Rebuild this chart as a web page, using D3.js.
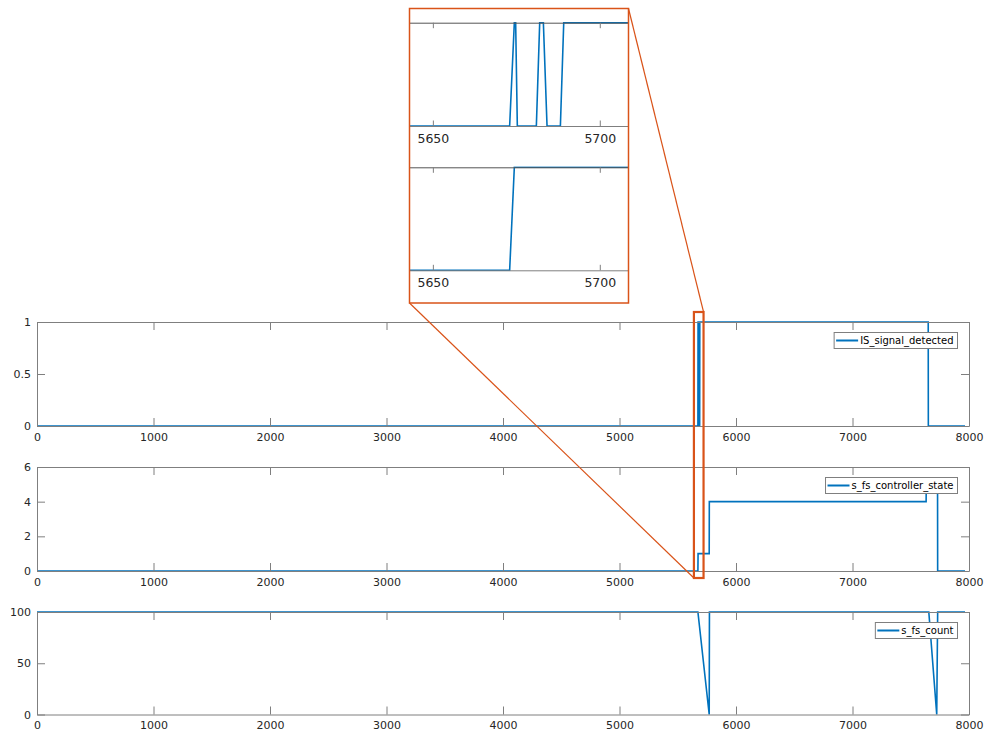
<!DOCTYPE html>
<html>
	<head>
		<meta charset="UTF-8">
		<title></title>
		<script src="https://d3js.org/d3.v7.min.js" type="text/javascript" charset="utf-8"></script>
		<style type="text/css">
			*{
				margin: 0;
				padding: 0;
			}
			body{
				background: #fff;
			}
			#mychart{
				width: 986px;
				height: 734px;
			}
		</style>
	</head>
	<body>
		<div id="mychart"></div>
	</body>
</html>
<script type="text/javascript">
	// sample times / values (breakpoints of each trace)
	var isSignalT = [0, 5673, 5674.4, 5674.8, 5675.3, 5681, 5682, 5683.1, 5684.2, 5688.2, 5689.2, 7650, 7651, 7966];
	var isSignalV = [0, 0, 1, 1, 0, 0, 1, 1, 0, 0, 1, 1, 0, 0];

	var stateT = [0, 5673, 5674.4, 5770, 5771, 7632, 7633, 7730, 7731, 7966];
	var stateV = [0, 0, 1, 1, 4, 4, 5, 5, 0, 0];

	var countT = [0, 5673, 5770, 5772, 7655, 7723, 7731, 7966];
	var countV = [100, 100, 0, 100, 100, 0, 100, 100];

	var seriesNames = ["IS_signal_detected", "s_fs_controller_state", "s_fs_count"];
	var xTicks = [0, 1000, 2000, 3000, 4000, 5000, 6000, 7000, 8000];
	var yTicks1 = [0, 0.5, 1];
	var yTicks2 = [0, 2, 4, 6];
	var yTicks3 = [0, 50, 100];
	var zoomXTicks = [5650, 5700];
	var zoomDomain = [5643, 5708.6];

	var _blue = "#0072bd";
	var _orange = "#d95319";
	var _axisColor = "#7f7f7f";
	var _textColor = "#262626";
	var _font = "'DejaVu Sans', sans-serif";
	var _plain = function(d){ return String(d); };

	function pairs(t, v){
		return t.map(function(d, i){ return [d, v[i]]; });
	}

	var _svg = d3.select("#mychart")
		.append("svg")
		.attr("width", 986)
		.attr("height", 734);

	// shared x scale of the three stacked plots
	var _x = d3.scaleLinear().domain([0, 8000]).range([37, 969]);

	var panels = [
		{name: seriesNames[0], data: pairs(isSignalT, isSignalV), domain: [0, 1], ticks: yTicks1, top: 322, bottom: 426},
		{name: seriesNames[1], data: pairs(stateT, stateV), domain: [0, 6], ticks: yTicks2, top: 467, bottom: 571},
		{name: seriesNames[2], data: pairs(countT, countV), domain: [0, 100], ticks: yTicks3, top: 612, bottom: 714.5}
	];

	function styleAxis(g, showText){
		g.select(".domain").attr("stroke", _axisColor).attr("stroke-width", 1);
		g.selectAll(".tick line").attr("stroke", _axisColor).attr("stroke-width", 1);
		g.selectAll(".tick text")
			.attr("fill", _textColor)
			.style("font-family", _font)
			.style("font-size", "11px")
			.style("display", showText ? null : "none");
	}

	panels.forEach(function(p){
		var _y = d3.scaleLinear().domain(p.domain).range([p.bottom, p.top]);
		p.y = _y;
		var _g = _svg.append("g");

		// data trace
		_g.append("path")
			.datum(p.data)
			.attr("fill", "none")
			.attr("stroke", _blue)
			.attr("stroke-width", 1.6)
			.attr("d", d3.line()
				.x(function(d){ return _x(d[0]); })
				.y(function(d){ return _y(d[1]); }));

		// box with inward ticks
		var xb = _g.append("g").attr("transform", "translate(0," + p.bottom + ")")
			.call(d3.axisBottom(_x).tickValues(xTicks).tickFormat(_plain).tickSize(-8).tickSizeOuter(0).tickPadding(7));
		styleAxis(xb, true);
		var xt = _g.append("g").attr("transform", "translate(0," + p.top + ")")
			.call(d3.axisTop(_x).tickValues(xTicks).tickSize(-8).tickSizeOuter(0));
		styleAxis(xt, false);
		var yl = _g.append("g").attr("transform", "translate(" + _x(0) + ",0)")
			.call(d3.axisLeft(_y).tickValues(p.ticks).tickFormat(_plain).tickSize(-8).tickSizeOuter(0).tickPadding(6));
		styleAxis(yl, true);
		var yr = _g.append("g").attr("transform", "translate(" + _x(8000) + ",0)")
			.call(d3.axisRight(_y).tickValues(p.ticks).tickSize(-8).tickSizeOuter(0));
		styleAxis(yr, false);

		// legend
		var _leg = _g.append("g");
		var _box = _leg.append("rect")
			.attr("fill", "#fff")
			.attr("stroke", _axisColor)
			.attr("stroke-width", 1);
		var _txt = _leg.append("text")
			.text(p.name)
			.attr("fill", "#000")
			.style("font-family", _font)
			.style("font-size", "10px");
		var tw = _txt.node().getComputedTextLength();
		var right = 957.5, top = p.top + 10.5, h = 16;
		var left = right - tw - 30;
		_box.attr("x", left).attr("y", top).attr("width", right - left).attr("height", h);
		_leg.append("line")
			.attr("x1", left + 2).attr("x2", left + 24)
			.attr("y1", top + h / 2).attr("y2", top + h / 2)
			.attr("stroke", _blue).attr("stroke-width", 2);
		_txt.attr("x", left + 26).attr("y", top + h / 2).attr("dy", "0.35em");
	});

	// zoom marker on the main plots
	var zx0 = _x(zoomDomain[0]), zx1 = _x(zoomDomain[1]);
	var mark = {x0: zx0 - 0.5, x1: zx1 + 1.5, y0: 312, y1: 578};
	_svg.append("rect")
		.attr("x", mark.x0).attr("y", mark.y0)
		.attr("width", mark.x1 - mark.x0).attr("height", mark.y1 - mark.y0)
		.attr("fill", "none").attr("stroke", _orange).attr("stroke-width", 2.2);

	// inset box
	var inset = {x0: 409.5, x1: 628.5, y0: 8.5, y1: 303};
	_svg.append("line")
		.attr("x1", inset.x1).attr("y1", inset.y0)
		.attr("x2", mark.x1).attr("y2", mark.y0)
		.attr("stroke", _orange).attr("stroke-width", 1.2);
	_svg.append("line")
		.attr("x1", inset.x0).attr("y1", inset.y1)
		.attr("x2", mark.x0).attr("y2", mark.y1)
		.attr("stroke", _orange).attr("stroke-width", 1.2);
	_svg.append("rect")
		.attr("x", inset.x0).attr("y", inset.y0)
		.attr("width", inset.x1 - inset.x0).attr("height", inset.y1 - inset.y0)
		.attr("fill", "#fff");

	var _zx = d3.scaleLinear().domain(zoomDomain).range([inset.x0, inset.x1]);
	var subPanels = [
		{data: panels[0].data, top: 22.7, bottom: 126},
		{data: panels[1].data, top: 167.3, bottom: 270.3}
	];
	_svg.append("clipPath").attr("id", "insetClip")
		.append("rect")
		.attr("x", inset.x0).attr("y", inset.y0)
		.attr("width", inset.x1 - inset.x0).attr("height", inset.y1 - inset.y0);

	subPanels.forEach(function(s, k){
		var _zy = d3.scaleLinear().domain([0, 1]).range([s.bottom, s.top]);
		var _g = _svg.append("g").attr("clip-path", "url(#insetClip)");
		_svg.append("clipPath").attr("id", "subClip" + k)
			.append("rect")
			.attr("x", inset.x0).attr("y", s.top - 1)
			.attr("width", inset.x1 - inset.x0).attr("height", s.bottom - s.top + 2);
		_g.append("path")
			.datum(s.data)
			.attr("clip-path", "url(#subClip" + k + ")")
			.attr("fill", "none")
			.attr("stroke", _blue)
			.attr("stroke-width", 1.6)
			.attr("d", d3.line()
				.x(function(d){ return _zx(d[0]); })
				.y(function(d){ return _zy(d[1]); }));
		var xb = _g.append("g").attr("transform", "translate(0," + s.bottom + ")")
			.call(d3.axisBottom(_zx).tickValues(zoomXTicks).tickFormat(_plain).tickSize(-5.5).tickSizeOuter(0).tickPadding(8));
		styleAxis(xb, true);
		xb.selectAll(".tick text").style("font-size", "12.5px");
		var xt = _g.append("g").attr("transform", "translate(0," + s.top + ")")
			.call(d3.axisTop(_zx).tickValues(zoomXTicks).tickSize(-5.5).tickSizeOuter(0));
		styleAxis(xt, false);
		xt.select(".domain").attr("stroke", "#555");
	});

	_svg.append("rect")
		.attr("x", inset.x0).attr("y", inset.y0)
		.attr("width", inset.x1 - inset.x0).attr("height", inset.y1 - inset.y0)
		.attr("fill", "none").attr("stroke", _orange).attr("stroke-width", 1.5);
</script>
